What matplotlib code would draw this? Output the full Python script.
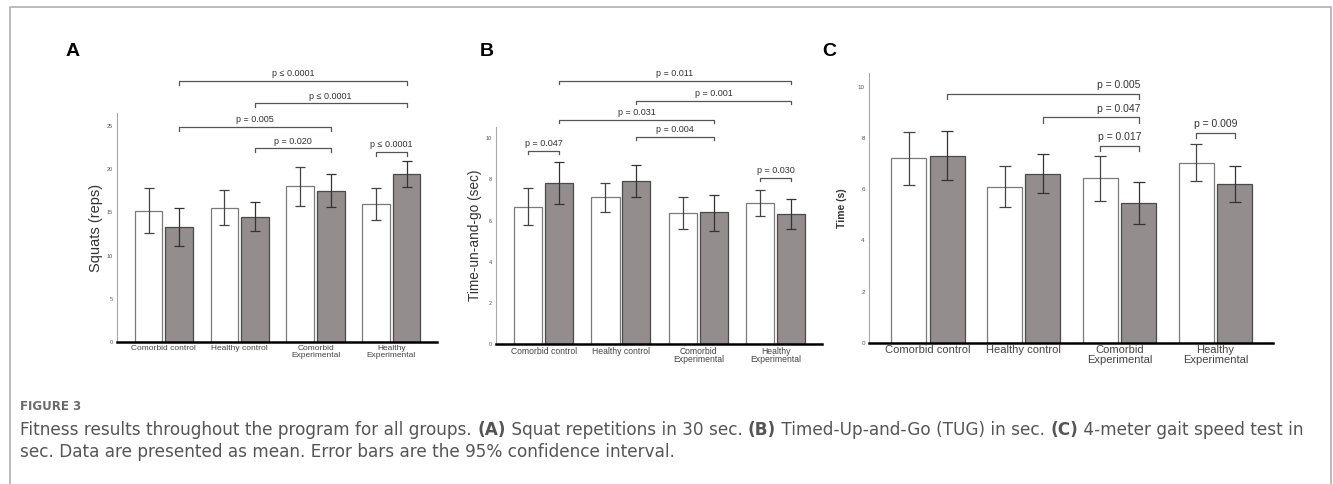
import numpy as np
import matplotlib.pyplot as plt
from matplotlib.lines import Line2D

# Групи та значення (середні та 95% ДІ)
groups = ["Comorbid control", "Healthy control", "Comorbid\nExperimental", "Healthy\nExperimental"]

# Панель A - присідання
a_pre = [15.2, 15.55, 18.0, 16.0]
a_post = [13.3, 14.5, 17.5, 19.45]
a_pre_lo = [12.6, 13.5, 15.7, 14.1]
a_pre_hi = [17.8, 17.6, 20.25, 17.85]
a_post_lo = [11.1, 12.8, 15.6, 17.9]
a_post_hi = [15.5, 16.2, 19.4, 21.0]

# Панель B - TUG
b_pre = [6.68, 7.13, 6.35, 6.87]
b_post = [7.81, 7.93, 6.39, 6.32]
b_pre_lo = [5.77, 6.42, 5.58, 6.22]
b_pre_hi = [7.57, 7.81, 7.13, 7.49]
b_post_lo = [6.79, 7.15, 5.48, 5.59]
b_post_hi = [8.82, 8.72, 7.26, 7.03]

# Панель C - швидкість ходи
c_pre = [7.2, 6.09, 6.42, 7.04]
c_post = [7.3, 6.6, 5.46, 6.2]
c_pre_lo = [6.17, 5.3, 5.52, 6.33]
c_pre_hi = [8.22, 6.89, 7.29, 7.76]
c_post_lo = [6.34, 5.83, 4.62, 5.51]
c_post_hi = [8.29, 7.36, 6.29, 6.89]

# Дужки значущості: (група1, стовпчик1, група2, стовпчик2, висота, підпис)
a_brackets = [(0, 1, 3, 1, 30.2, "p ≤ 0.0001"), (1, 1, 3, 1, 27.6, "p ≤ 0.0001"),
              (0, 1, 2, 1, 24.9, "p = 0.005"), (1, 1, 2, 1, 22.4, "p = 0.020"),
              (3, 0, 3, 1, 22.0, "p ≤ 0.0001")]
b_brackets = [(0, 1, 3, 1, 12.8, "p = 0.011"), (1, 1, 3, 1, 11.83, "p = 0.001"),
              (0, 1, 2, 1, 10.9, "p = 0.031"), (1, 1, 2, 1, 10.08, "p = 0.004"),
              (0, 0, 0, 1, 9.4, "p = 0.047"), (3, 0, 3, 1, 8.09, "p = 0.030")]
c_brackets = [(0, 1, 2, 1, 9.71, "p = 0.005"), (1, 1, 2, 1, 8.8, "p = 0.047"),
              (2, 0, 2, 1, 7.68, "p = 0.017"), (3, 0, 3, 1, 8.18, "p = 0.009")]

a_ticks = [0, 5, 10, 15, 20, 25]
bc_ticks = [0, 2, 4, 6, 8, 10]

W = 0.365
OFF = 0.2
GREY = '#938d8d'


def panel(ax, pre, post, pre_lo, pre_hi, post_lo, post_hi, brackets, ymax, yticks, ylabel,
          ylab_size, ylab_bold, tick_size, xtick_size, cap, tick_h, text_gap, p_size,
          right_text=False):
    x = np.arange(len(groups))
    pre = np.array(pre)
    post = np.array(post)
    err_pre = [pre - np.array(pre_lo), np.array(pre_hi) - pre]
    err_post = [post - np.array(post_lo), np.array(post_hi) - post]
    ax.bar(x - OFF, pre, W, color='white', edgecolor='#7a7a7a', linewidth=0.9, zorder=2)
    ax.bar(x + OFF, post, W, color=GREY, edgecolor='#4a4a4a', linewidth=0.9, zorder=2)
    ax.errorbar(x - OFF, pre, yerr=err_pre, fmt='none', ecolor='#444444', elinewidth=0.9,
                capsize=cap, capthick=0.9, zorder=3)
    ax.errorbar(x + OFF, post, yerr=err_post, fmt='none', ecolor='#333333', elinewidth=0.9,
                capsize=cap, capthick=0.9, zorder=3)
    ax.set_xlim(-0.615, 3.6)
    ax.set_ylim(0, ymax)
    ax.set_xticks(x)
    ax.set_xticklabels(groups, fontsize=xtick_size, color='#444444', linespacing=0.95)
    ax.tick_params(axis='x', length=0, pad=2)
    ax.set_yticks(yticks)
    ax.set_yticklabels([str(t) for t in yticks])
    ax.tick_params(axis='y', length=0, pad=3, labelsize=tick_size, labelcolor='#555555')
    for s in ['top', 'right']:
        ax.spines[s].set_visible(False)
    ax.spines['left'].set_color('#aaaaaa')
    ax.spines['left'].set_linewidth(0.8)
    ax.spines['bottom'].set_color('black')
    ax.spines['bottom'].set_linewidth(1.8)
    ax.set_ylabel(ylabel, fontsize=ylab_size, color='#333333',
                  fontweight='bold' if ylab_bold else 'normal')
    for g1, b1, g2, b2, h, lab in brackets:
        x1 = g1 + (OFF if b1 else -OFF)
        x2 = g2 + (OFF if b2 else -OFF)
        ax.plot([x1, x1, x2, x2], [h - tick_h, h, h, h - tick_h], color='#555555',
                lw=0.9, clip_on=False, zorder=4)
        if right_text and g1 != g2:
            ax.text(x2 + 0.02, h + text_gap, lab, ha='right', va='center', fontsize=p_size,
                    color='#333333', clip_on=False)
        else:
            ax.text((x1 + x2) / 2, h + text_gap, lab, ha='center', va='center', fontsize=p_size,
                    color='#333333', clip_on=False)


plt.rcParams['font.family'] = ['Liberation Sans', 'DejaVu Sans']
fig = plt.figure(figsize=(13.33, 4.84), dpi=100)

ax_a = fig.add_axes([117 / 1333, 142 / 484, 320 / 1333, 229 / 484])
ax_b = fig.add_axes([496 / 1333, 140 / 484, 326 / 1333, 216.7 / 484])
ax_c = fig.add_axes([869 / 1333, 141.3 / 484, 404 / 1333, 270 / 484])

panel(ax_a, a_pre, a_post, a_pre_lo, a_pre_hi, a_post_lo, a_post_hi, a_brackets, 26.5, a_ticks,
      "Squats (reps)", 10.5, False, 4, 6, 3.3, 0.45, 0.85, 6.5)
panel(ax_b, b_pre, b_post, b_pre_lo, b_pre_hi, b_post_lo, b_post_hi, b_brackets, 10.53, bc_ticks,
      "Time-un-and-go (sec)", 9.8, False, 4, 6.2, 3.3, 0.17, 0.34, 6.5)
panel(ax_c, c_pre, c_post, c_pre_lo, c_pre_hi, c_post_lo, c_post_hi, c_brackets, 10.55, bc_ticks,
      "Time (s)", 7.5, True, 4.5, 8, 4, 0.2, 0.35, 7.5, right_text=True)
ax_a.yaxis.set_label_coords(-0.044, 0.5)
ax_b.yaxis.set_label_coords(-0.043, 0.5)
ax_c.yaxis.set_label_coords(-0.054, 0.5)

# Літери панелей
for lx, lab in [(73, "A"), (487, "B"), (829, "C")]:
    fig.text(lx / 1333, 1 - 52 / 484, lab, fontsize=14, fontweight='bold', ha='center', va='center')

# Рамка
fig.add_artist(Line2D([10 / 1333, 10 / 1333, 1331 / 1333, 1331 / 1333], [0, 1 - 7 / 484, 1 - 7 / 484, 0],
                      transform=fig.transFigure, color='#b0b0b0', lw=1.2))

# Підпис до рисунка
cap_font = ['DejaVu Sans']
fig.text(20 / 1333, 1 - 406 / 484, "FIGURE 3", fontsize=8.5, fontweight='bold', color='#6a6a6a',
         va='center', family=cap_font)

line1 = [("Fitness results throughout the program for all groups. ", 'normal'), ("(A)", 'bold'),
         (" Squat repetitions in 30 sec. ", 'normal'), ("(B)", 'bold'),
         (" Timed-Up-and-Go (TUG) in sec. ", 'normal'), ("(C)", 'bold'),
         (" 4-meter gait speed test in", 'normal')]
line2 = [("sec. Data are presented as mean. Error bars are the 95% confidence interval.", 'normal')]

renderer = fig.canvas.get_renderer()
for parts, ypx in [(line1, 430), (line2, 452)]:
    xpx = 20
    for txt, wt in parts:
        t = fig.text(xpx / 1333, 1 - ypx / 484, txt, fontsize=12.2, fontweight=wt, color='#555555',
                     va='center', family=cap_font)
        xpx += t.get_window_extent(renderer).width

fig.savefig("out.png", dpi=100)
